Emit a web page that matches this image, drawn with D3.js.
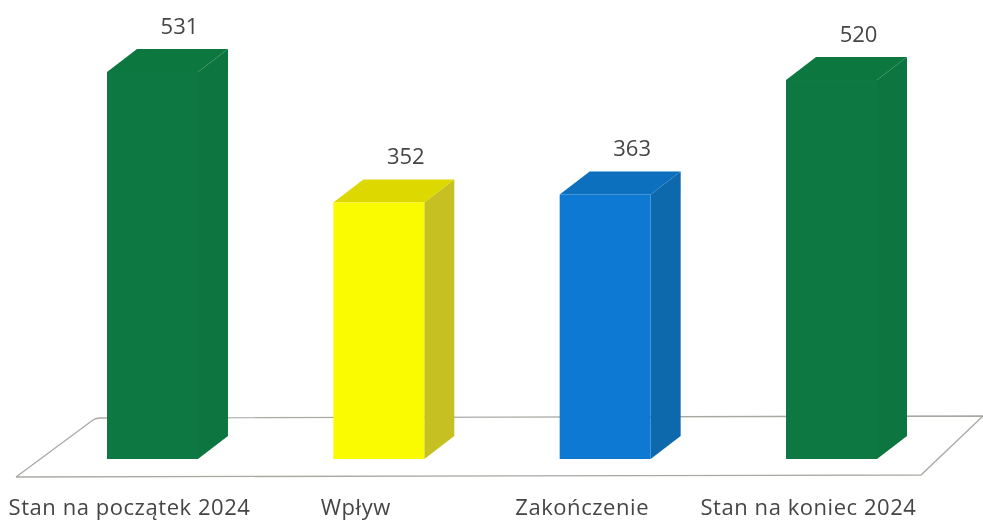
<!DOCTYPE html>
<html>
<head>
<meta charset="utf-8">
<script src="https://cdn.jsdelivr.net/npm/d3@7"></script>
<style>
html, body { margin: 0; padding: 0; background: #fff; }
svg { display: block; }
text { font-family: "Open Sans", sans-serif; fill: #454545; }
</style>
</head>
<body>
<svg id="chart"></svg>
<script>
const categories = ['Stan na początek 2024', 'Wpływ', 'Zakończenie', 'Stan na koniec 2024'];
const values = [531, 352, 363, 520];
const frontColors = ['#107842', '#fbfb00', '#0a79d3', '#107842'];
const sideColors = ['#107641', '#c6c022', '#0b69ab', '#107641'];
const topColors = ['#107741', '#dcd800', '#0a6fbf', '#107741'];

const width = 983;
const height = 522;
const baseY = 459;
const depthX = 30;
const depthY = 23;

const svg = d3.select('#chart').attr('width', width).attr('height', height);

// scan of the original is a little soft
svg.append('filter').attr('id', 'soft')
    .append('feGaussianBlur').attr('stdDeviation', 0.45);

const chart = svg.append('g').attr('filter', 'url(#soft)');

const y = d3.scaleLinear().domain([0, 531]).range([baseY, 72]);
const x = d3.scaleBand().domain(categories).range([107, 877]).paddingInner(0.598).paddingOuter(0);

// floor
chart.append('path')
    .attr('d', 'M16,477 L93,420 Q96,418 100,418 L983,416 M983,416 L921,475 L16,477')
    .attr('fill', 'none')
    .attr('stroke', '#a9a9a4')
    .attr('stroke-width', 1.3);

const bars = chart.selectAll('.bar')
    .data(categories)
    .join('g')
    .attr('class', 'bar');

bars.each(function(d, i) {
    const g = d3.select(this);
    const x0 = x(d);
    const x1 = x0 + x.bandwidth();
    const top = y(values[i]);
    g.append('path')
        .attr('d', `M${x1},${top} L${x1 + depthX},${top - depthY} L${x1 + depthX},${baseY - depthY} L${x1},${baseY} Z`)
        .attr('fill', sideColors[i]);
    g.append('path')
        .attr('d', `M${x0},${top} L${x0 + depthX},${top - depthY} L${x1 + depthX},${top - depthY} L${x1},${top} Z`)
        .attr('fill', topColors[i]);
    g.append('rect')
        .attr('x', x0)
        .attr('y', top)
        .attr('width', x.bandwidth())
        .attr('height', baseY - top)
        .attr('fill', frontColors[i]);
    g.append('text')
        .attr('x', x0 + x.bandwidth() / 2 + 27)
        .attr('y', top - depthY - 15)
        .attr('text-anchor', 'middle')
        .attr('font-size', 22)
        .text(values[i]);
});

chart.selectAll('.cat')
    .data(categories)
    .join('text')
    .attr('class', 'cat')
    .attr('x', d => x(d) + x.bandwidth() / 2 - 23)
    .attr('y', 515)
    .attr('text-anchor', 'middle')
    .attr('font-size', 22)
    .attr('letter-spacing', 0.55)
    .text(d => d);
</script>
</body>
</html>
